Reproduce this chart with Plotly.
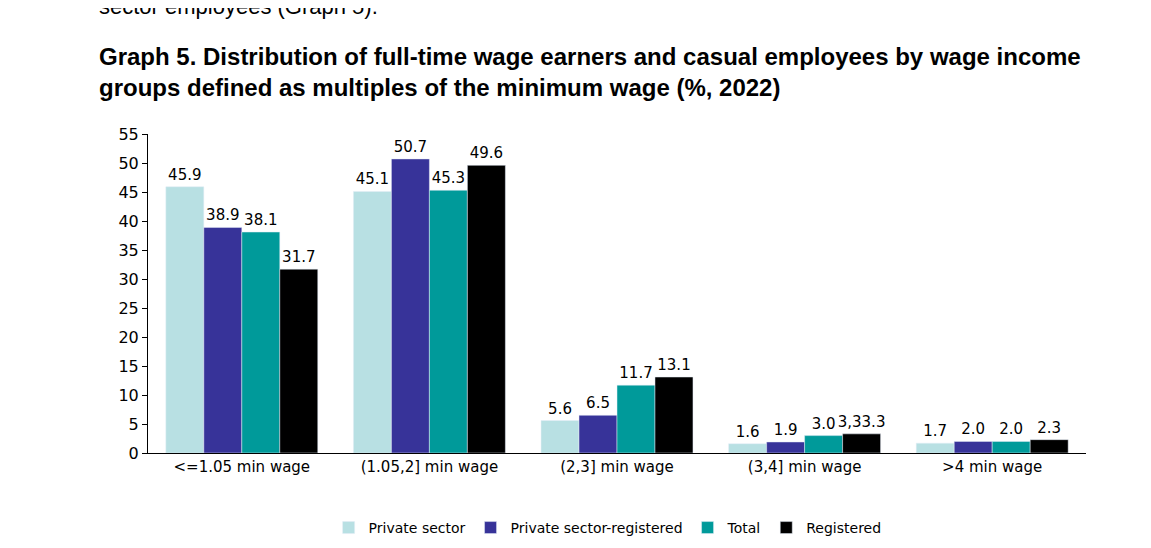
import plotly.graph_objects as go

categories = ["<=1.05 min wage", "(1.05,2] min wage", "(2,3] min wage", "(3,4] min wage", ">4 min wage"]
private_sector = [45.9, 45.1, 5.6, 1.6, 1.7]
private_registered = [38.9, 50.7, 6.5, 1.9, 2.0]
total = [38.1, 45.3, 11.7, 3.0, 2.0]
registered = [31.7, 49.6, 13.1, 3.3, 2.3]
registered_labels = ["31.7", "49.6", "13.1", "3,33.3", "2.3"]

series = [
    ("Private sector", private_sector, "#b8e0e3", None),
    ("Private sector-registered", private_registered, "#373399", None),
    ("Total", total, "#009a9a", None),
    ("Registered", registered, "#000000", registered_labels),
]

fig = go.Figure()
for name, vals, color, labels in series:
    fig.add_trace(go.Bar(
        x=categories, y=vals, name=name, marker_color=color,
        text=labels if labels else [f"{v:.1f}" for v in vals],
        textposition="outside", cliponaxis=False, constraintext="none",
        textfont=dict(size=15, color="#000000"),
    ))

L = 140
W = 1151 - L - 73  # plot width in px
fig.update_layout(
    width=1151, height=548,
    barmode="group", bargap=0.19, bargroupgap=0,
    plot_bgcolor="white", paper_bgcolor="white",
    font=dict(family="DejaVu Sans", size=15, color="#000000"),
    margin=dict(l=L, r=73, t=126, b=88),
    showlegend=True,
    legend=dict(orientation="h", x=0.49, xanchor="center", y=-0.235, yanchor="middle",
                font=dict(size=14), traceorder="normal"),
)
fig.update_xaxes(showline=True, linecolor="#000000", linewidth=1, ticks="",
                 tickfont=dict(size=15))
fig.update_yaxes(range=[0, 55], dtick=5, showgrid=False, showline=True, linecolor="#000000",
                 ticks="outside", ticklen=5, tickcolor="#000000", zeroline=False,
                 tickfont=dict(size=16))

fig.add_annotation(
    xref="paper", yref="paper", x=-(L - 92 + 3) / W, y=1, xanchor="left", yanchor="top", yshift=93,
    text="<b>Graph 5. Distribution of full-time wage earners and casual employees by wage income<br>"
         "groups defined as multiples of the minimum wage (%, 2022)</b>",
    showarrow=False, align="left",
    font=dict(family="Liberation Sans", size=24, color="#000000"),
)
fig.add_annotation(
    xref="paper", yref="paper", x=-(L - 92 + 3) / W, y=1, xanchor="left", yanchor="middle", yshift=128,
    text="sector employees (Graph 5).", showarrow=False,
    font=dict(family="Liberation Sans", size=22, color="#000000"),
)

fig.write_html("out.html")
